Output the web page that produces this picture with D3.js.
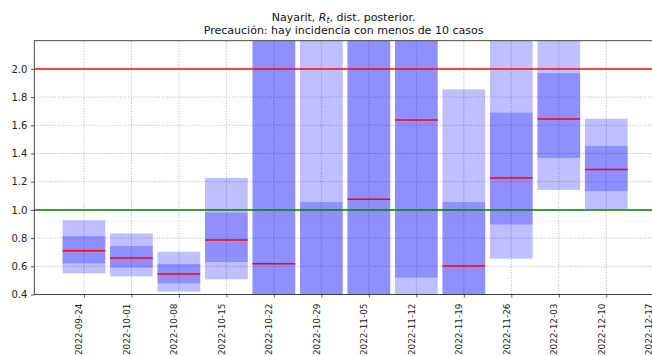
<!DOCTYPE html>
<html>
<head>
<meta charset="utf-8">
<script src="https://cdn.jsdelivr.net/npm/d3@7"></script>
<style>
  html, body { margin: 0; padding: 0; background: #fff; }
  svg { display: block; font-family: "DejaVu Sans", sans-serif; }
</style>
</head>
<body>
<svg id="chart" width="652" height="356"></svg>
<script>
// Weekly Rt posterior summaries for Nayarit
const weeks = ["2022-09-24", "2022-10-01", "2022-10-08", "2022-10-15", "2022-10-22", "2022-10-29",
               "2022-11-05", "2022-11-12", "2022-11-19", "2022-11-26", "2022-12-03", "2022-12-10"];
const outerLow  = [0.550, 0.529, 0.420, 0.507, 0.05, 0.02, 0.10, 0.15, 0.05, 0.654, 1.142, 1.005];
const outerHigh = [0.927, 0.833, 0.703, 1.227, 4.50, 3.20, 5.00, 5.50, 1.855, 2.60, 2.40, 1.647];
const innerLow  = [0.620, 0.590, 0.479, 0.630, 0.25, 0.10, 0.30, 0.52, 0.20, 0.897, 1.369, 1.133];
const innerHigh = [0.814, 0.743, 0.616, 0.982, 2.60, 1.055, 3.00, 3.80, 1.055, 1.690, 1.970, 1.454];
const median    = [0.710, 0.658, 0.545, 0.786, 0.618, 0.36, 1.076, 1.638, 0.602, 1.227, 1.645, 1.286];

const yTicks = [0.4, 0.6, 0.8, 1.0, 1.2, 1.4, 1.6, 1.8, 2.0];
const xTickLabels = ["2022-09-24", "2022-10-01", "2022-10-08", "2022-10-15", "2022-10-22", "2022-10-29",
                     "2022-11-05", "2022-11-12", "2022-11-19", "2022-11-26", "2022-12-03", "2022-12-10",
                     "2022-12-17"];
const yDomain = [0.4, 2.2];
const refLines = [{ v: 2.0, color: "#ff0000", opacity: 0.7 }, { v: 1.0, color: "#008000", opacity: 0.75 }];

const parse = d3.utcParse("%Y-%m-%d");
const fmt = d3.utcFormat("%Y-%m-%d");
const DAY = 864e5;

const data = weeks.map((w, i) => ({
  date: parse(w), oLo: outerLow[i], oHi: outerHigh[i],
  iLo: innerLow[i], iHi: innerHigh[i], med: median[i]
}));

const margin = { left: 34.3, top: 40.7, right: 655.9, bottom: 294.5 };
const svg = d3.select("#chart");

// Bars are 0.9 of a week wide; axis padded by 5% of the data span
const halfBar = 3.15 * DAY;
const lo = d3.min(data, d => +d.date) - halfBar;
const hi = d3.max(data, d => +d.date) + halfBar;
const pad = (hi - lo) * 0.05;

const x = d3.scaleUtc().domain([new Date(lo - pad), new Date(hi + pad)]).range([margin.left, margin.right]);
const y = d3.scaleLinear().domain(yDomain).range([margin.bottom, margin.top]);

svg.append("defs").append("clipPath").attr("id", "plot-clip")
  .append("rect")
  .attr("x", margin.left).attr("y", margin.top)
  .attr("width", margin.right - margin.left).attr("height", margin.bottom - margin.top);

// Dotted grid
const grid = svg.append("g").attr("stroke", "#a0a0a0").attr("stroke-width", 0.8)
  .attr("stroke-dasharray", "1,1.6");
xTickLabels.forEach(t => {
  const px = x(parse(t));
  grid.append("line").attr("x1", px).attr("x2", px).attr("y1", margin.top).attr("y2", margin.bottom);
});
yTicks.forEach(t => {
  grid.append("line").attr("x1", margin.left).attr("x2", margin.right).attr("y1", y(t)).attr("y2", y(t));
});

const plot = svg.append("g").attr("clip-path", "url(#plot-clip)");
const bw = x(new Date(2 * halfBar)) - x(new Date(0));

// Posterior intervals: outer band then inner band, both translucent blue
plot.selectAll("rect.outer").data(data).join("rect")
  .attr("class", "outer")
  .attr("x", d => x(new Date(+d.date - halfBar)))
  .attr("width", bw)
  .attr("y", d => y(d.oHi))
  .attr("height", d => y(d.oLo) - y(d.oHi))
  .attr("fill", "#0000ff").attr("fill-opacity", 0.25);

plot.selectAll("rect.inner").data(data).join("rect")
  .attr("class", "inner")
  .attr("x", d => x(new Date(+d.date - halfBar)))
  .attr("width", bw)
  .attr("y", d => y(d.iHi))
  .attr("height", d => y(d.iLo) - y(d.iHi))
  .attr("fill", "#0000ff").attr("fill-opacity", 0.25);

// Reference lines at Rt = 2 and Rt = 1
refLines.forEach(r => {
  plot.append("line")
    .attr("x1", margin.left).attr("x2", margin.right)
    .attr("y1", y(r.v)).attr("y2", y(r.v))
    .attr("stroke", r.color).attr("stroke-opacity", r.opacity).attr("stroke-width", 2);
});

// Posterior medians
plot.selectAll("line.median").data(data).join("line")
  .attr("class", "median")
  .attr("x1", d => x(new Date(+d.date - halfBar)))
  .attr("x2", d => x(new Date(+d.date + halfBar)))
  .attr("y1", d => y(d.med)).attr("y2", d => y(d.med))
  .attr("stroke", "#ff0000").attr("stroke-width", 1.5);

// Axes
const xAxis = d3.axisBottom(x)
  .tickValues(xTickLabels.map(parse))
  .tickFormat(fmt)
  .tickSize(3).tickPadding(3);
const gx = svg.append("g").attr("transform", `translate(0,${margin.bottom})`).call(xAxis);
gx.select(".domain").remove();
gx.selectAll(".tick line").attr("stroke", "#333").attr("stroke-width", 0.8);
// Rotated date labels sit slightly left of their tick
gx.selectAll(".tick text")
  .attr("font-family", "DejaVu Sans").attr("font-size", 8.9).attr("fill", "#222")
  .attr("transform", "rotate(-90)")
  .attr("text-anchor", "end")
  .attr("x", -9).attr("y", -5.2).attr("dy", "0.35em");

const yAxis = d3.axisLeft(y).tickValues(yTicks).tickFormat(d3.format(".1f"))
  .tickSize(3.5).tickPadding(3.5);
const gy = svg.append("g").attr("transform", `translate(${margin.left},0)`).call(yAxis);
gy.select(".domain").remove();
gy.selectAll(".tick line").attr("stroke", "#333").attr("stroke-width", 0.8);
gy.selectAll(".tick text")
  .attr("font-family", "DejaVu Sans").attr("font-size", 10).attr("fill", "#222");

// Spines
const spines = svg.append("g").attr("stroke", "#333").attr("stroke-width", 0.9).attr("fill", "none");
spines.append("rect")
  .attr("x", margin.left).attr("y", margin.top)
  .attr("width", margin.right - margin.left).attr("height", margin.bottom - margin.top);

// Title
const cx = (margin.left + margin.right) / 2 - 1.5;
const t1 = svg.append("text").attr("x", cx).attr("y", 21).attr("text-anchor", "middle")
  .attr("font-size", 11).attr("fill", "#111");
t1.append("tspan").text("Nayarit, ");
t1.append("tspan").attr("font-style", "italic").text("R");
t1.append("tspan").attr("font-style", "italic").attr("font-size", 8).attr("dy", 2).text("t");
t1.append("tspan").attr("dy", -2).text(", dist. posterior.");
svg.append("text").attr("x", cx).attr("y", 34).attr("text-anchor", "middle")
  .attr("font-size", 11).attr("fill", "#111")
  .text("Precaución: hay incidencia con menos de 10 casos");
</script>
</body>
</html>
